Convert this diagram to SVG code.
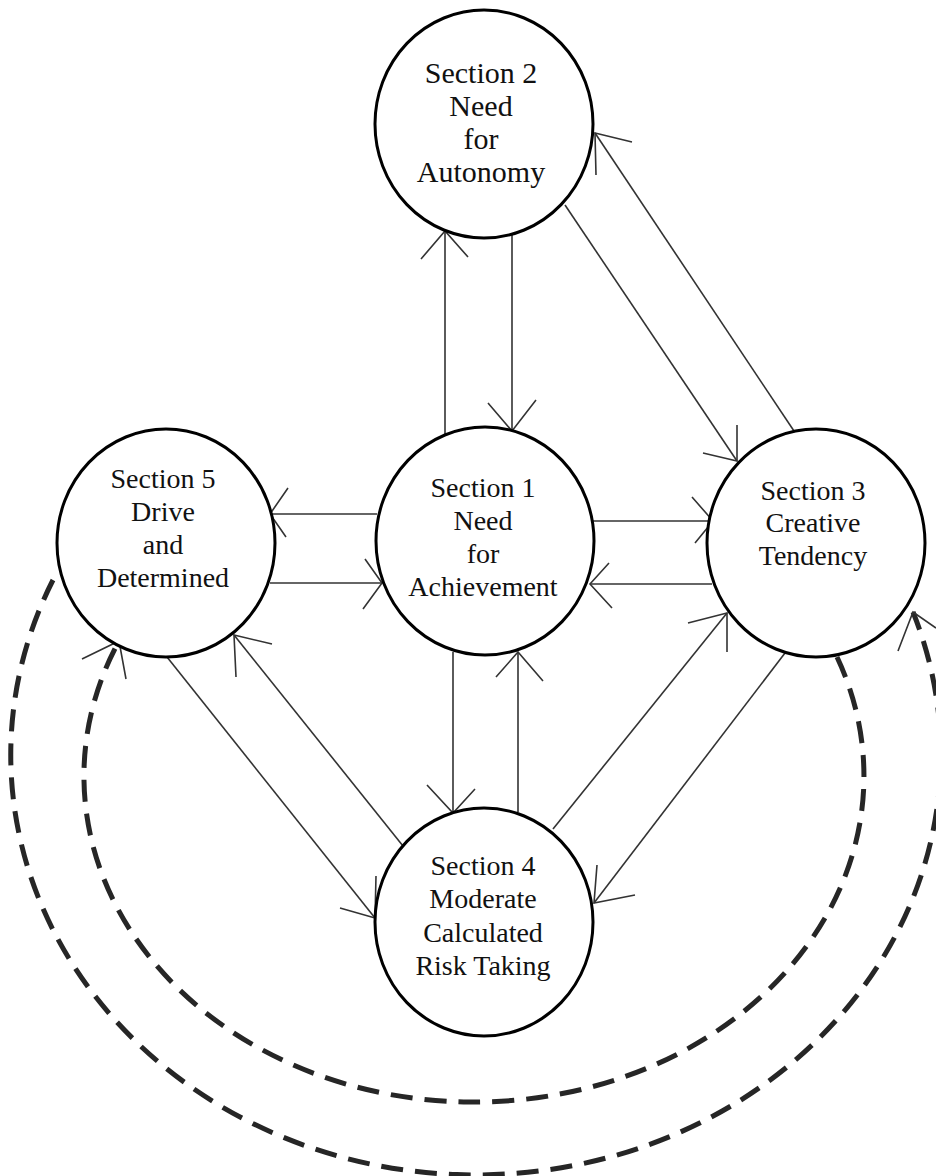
<svg xmlns="http://www.w3.org/2000/svg" width="936" height="1176" viewBox="0 0 936 1176">
<style>
.node{fill:#fff;stroke:#000;stroke-width:3}
.lbl{font-family:"Liberation Serif","Times New Roman",serif;font-size:28px;fill:#111;text-anchor:middle}
.big{font-size:30px}
.ln{fill:none;stroke:#333;stroke-width:1.6}
.ah{fill:none;stroke:#333;stroke-width:1.6;stroke-linejoin:miter}
.dash{fill:none;stroke:#262626;stroke-width:5;stroke-dasharray:22 12}
</style>
<rect width="936" height="1176" fill="#fff"/>
<g id="connectors">
  <g id="e-s1-s2"><line class="ln" x1="445" y1="435" x2="445" y2="231"/><polyline class="ah" points="421,259 445,231 468,257"/></g>
  <g id="e-s2-s1"><line class="ln" x1="512" y1="234" x2="512" y2="431"/><polyline class="ah" points="488,403 512,431 536,400"/></g>
  <g id="e-s2-s3"><line class="ln" x1="565" y1="205" x2="737" y2="461"/><polyline class="ah" points="703,453 737,461 737,425"/></g>
  <g id="e-s3-s2"><line class="ln" x1="794" y1="431" x2="595" y2="133"/><polyline class="ah" points="632,142 595,133 596,175"/></g>
  <g id="e-s1-s3"><line class="ln" x1="593" y1="521" x2="713" y2="521"/><polyline class="ah" points="692,497 713,521 695,543"/></g>
  <g id="e-s3-s1"><line class="ln" x1="712" y1="584" x2="590" y2="584"/><polyline class="ah" points="609,563 590,584 612,608"/></g>
  <g id="e-s1-s5"><line class="ln" x1="377" y1="514" x2="270" y2="514"/><polyline class="ah" points="288,488 270,514 286,537"/></g>
  <g id="e-s5-s1"><line class="ln" x1="270" y1="583" x2="382" y2="583"/><polyline class="ah" points="365,559 382,583 363,609"/></g>
  <g id="e-s1-s4"><line class="ln" x1="453" y1="652" x2="453" y2="813"/><polyline class="ah" points="427,785 453,813 475,789"/></g>
  <g id="e-s4-s1"><line class="ln" x1="518" y1="812" x2="518" y2="652"/><polyline class="ah" points="496,677 518,652 543,681"/></g>
  <g id="e-s4-s3"><line class="ln" x1="553" y1="829" x2="727" y2="613"/><polyline class="ah" points="688,623 727,613 727,652"/></g>
  <g id="e-s3-s4"><line class="ln" x1="785" y1="653" x2="594" y2="903"/><polyline class="ah" points="597,865 594,903 635,895"/></g>
  <g id="e-s5-s4"><line class="ln" x1="167" y1="657" x2="375" y2="918"/><polyline class="ah" points="340,908 375,918 376,876"/></g>
  <g id="e-s4-s5"><line class="ln" x1="403" y1="846" x2="234" y2="635"/><polyline class="ah" points="272,644 234,635 236,677"/></g>
  <g id="e-s5-s3-dashed"><path class="dash" d="M 53,580 A 465 420 0 1 0 913,612"/><polyline class="ah" points="898,651 913,612 936,628"/></g>
  <g id="e-s3-s5-dashed"><path class="dash" d="M 837,657 A 390 326 0 1 1 119,641"/><polyline class="ah" points="82,659 119,641 126,679"/></g>
</g>
<g id="s2">
  <ellipse class="node" cx="484" cy="124" rx="109" ry="114"/>
  <text class="lbl big" x="481" y="83">Section 2</text>
  <text class="lbl big" x="481" y="116">Need</text>
  <text class="lbl big" x="481" y="149">for</text>
  <text class="lbl big" x="481" y="182">Autonomy</text>
</g>
<g id="s1">
  <ellipse class="node" cx="485" cy="541" rx="109" ry="114"/>
  <text class="lbl" x="483" y="497">Section 1</text>
  <text class="lbl" x="483" y="530">Need</text>
  <text class="lbl" x="483" y="563">for</text>
  <text class="lbl" x="483" y="596">Achievement</text>
</g>
<g id="s3">
  <ellipse class="node" cx="816" cy="543" rx="109" ry="114"/>
  <text class="lbl" x="813" y="500">Section 3</text>
  <text class="lbl" x="813" y="532">Creative</text>
  <text class="lbl" x="813" y="565">Tendency</text>
</g>
<g id="s5">
  <ellipse class="node" cx="166" cy="543" rx="109" ry="114"/>
  <text class="lbl" x="163" y="488">Section 5</text>
  <text class="lbl" x="163" y="521">Drive</text>
  <text class="lbl" x="163" y="554">and</text>
  <text class="lbl" x="163" y="587">Determined</text>
</g>
<g id="s4">
  <ellipse class="node" cx="484" cy="922" rx="109" ry="114"/>
  <text class="lbl" x="483" y="875">Section 4</text>
  <text class="lbl" x="483" y="908">Moderate</text>
  <text class="lbl" x="483" y="942">Calculated</text>
  <text class="lbl" x="483" y="975">Risk Taking</text>
</g>
</svg>
